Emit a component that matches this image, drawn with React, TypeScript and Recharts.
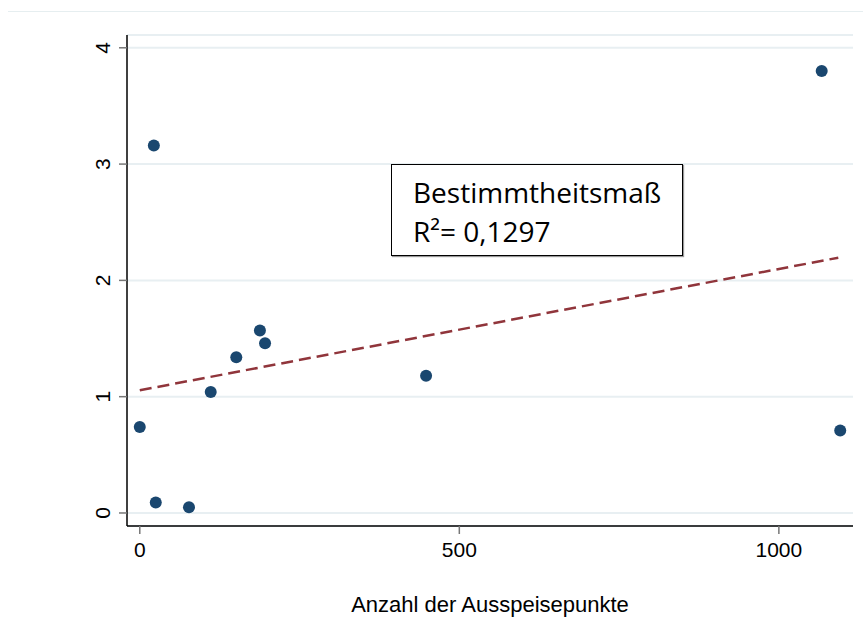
import React from 'react';
import { ScatterChart, Scatter, XAxis, YAxis, CartesianGrid, ReferenceLine } from 'recharts';

// Anzahl der Ausspeisepunkte vs. Wert je Netzbetreiber
const counts = [0, 22, 25, 77, 111, 151, 188, 196, 448, 1067, 1096];
const values = [0.74, 3.16, 0.09, 0.05, 1.04, 1.34, 1.57, 1.46, 1.18, 3.8, 0.71];

// lineare Regression (gestrichelt)
const fitX = [0, 1093];
const fitY = [1.055, 2.195];

const xTicks = [0, 500, 1000];
const yTicks = [0, 1, 2, 3, 4];

const boxTitle = 'Bestimmtheitsmaß';
const boxValue = 'R²= 0,1297';
const xLabel = 'Anzahl der Ausspeisepunkte';

const points = counts.map((x, i) => ({ x, y: values[i] }));

const FONT = '"Liberation Sans", Arial, Helvetica, sans-serif';

function YTick(props: any) {
  const { x, y, payload } = props;
  return (
    <text
      x={x}
      y={y}
      transform={`rotate(-90 ${x} ${y})`}
      textAnchor="middle"
      fontSize={21}
      fill="#000"
      fontFamily={FONT}
    >
      {payload.value}
    </text>
  );
}

function Dot(props: any) {
  return <circle cx={props.cx} cy={props.cy} r={6} fill="#1a476f" />;
}

export default function App() {
  return (
    <div style={{ position: 'absolute', left: 0, top: 0, width: 863, height: 628, background: '#fff', fontFamily: FONT }}>
      <div style={{ position: 'absolute', left: 8, top: 11, width: 855, height: 1, background: '#e6eef0' }} />
      <ScatterChart width={863} height={628} margin={{ top: 35, right: 10, bottom: 0, left: 0 }}>
        <CartesianGrid vertical={false} stroke="#e8eff2" strokeWidth={2} />
        <XAxis
          type="number"
          dataKey="x"
          domain={[-20, 1116]}
          ticks={xTicks}
          allowDataOverflow
          height={102}
          axisLine={{ stroke: '#000', strokeWidth: 1.5 }}
          tickLine={{ stroke: '#777', strokeWidth: 1.5 }}
          tickSize={8}
          tickMargin={8}
          tick={{ fill: '#000', fontSize: 21, fontFamily: FONT }}
          label={{ value: xLabel, position: 'insideBottom', offset: 16, fill: '#000', fontSize: 22, fontFamily: FONT }}
        />
        <YAxis
          type="number"
          dataKey="y"
          domain={[-0.112, 4.11]}
          ticks={yTicks}
          allowDataOverflow
          width={127}
          axisLine={{ stroke: '#000', strokeWidth: 1.5 }}
          tickLine={{ stroke: '#777', strokeWidth: 1.5 }}
          tickSize={8}
          tickMargin={9}
          tick={<YTick />}
        />
        <ReferenceLine
          segment={[
            { x: fitX[0], y: fitY[0] },
            { x: fitX[1], y: fitY[1] },
          ]}
          stroke="#90353b"
          strokeWidth={2.5}
          strokeDasharray="12 6"
          ifOverflow="visible"
        />
        <Scatter data={points} shape={<Dot />} isAnimationActive={false} />
      </ScatterChart>
      <div
        style={{
          position: 'absolute',
          left: 391,
          top: 164,
          width: 292,
          height: 92,
          border: '1.5px solid #000',
          background: '#fff',
          boxShadow: '1px 1px 1px #999',
          fontFamily: '"Open Sans", sans-serif',
          fontSize: 28,
          lineHeight: '39px',
          color: '#000',
          boxSizing: 'border-box',
          paddingLeft: 21,
          paddingTop: 8,
        }}
      >
        <div>{boxTitle}</div>
        <div>{boxValue}</div>
      </div>
    </div>
  );
}
